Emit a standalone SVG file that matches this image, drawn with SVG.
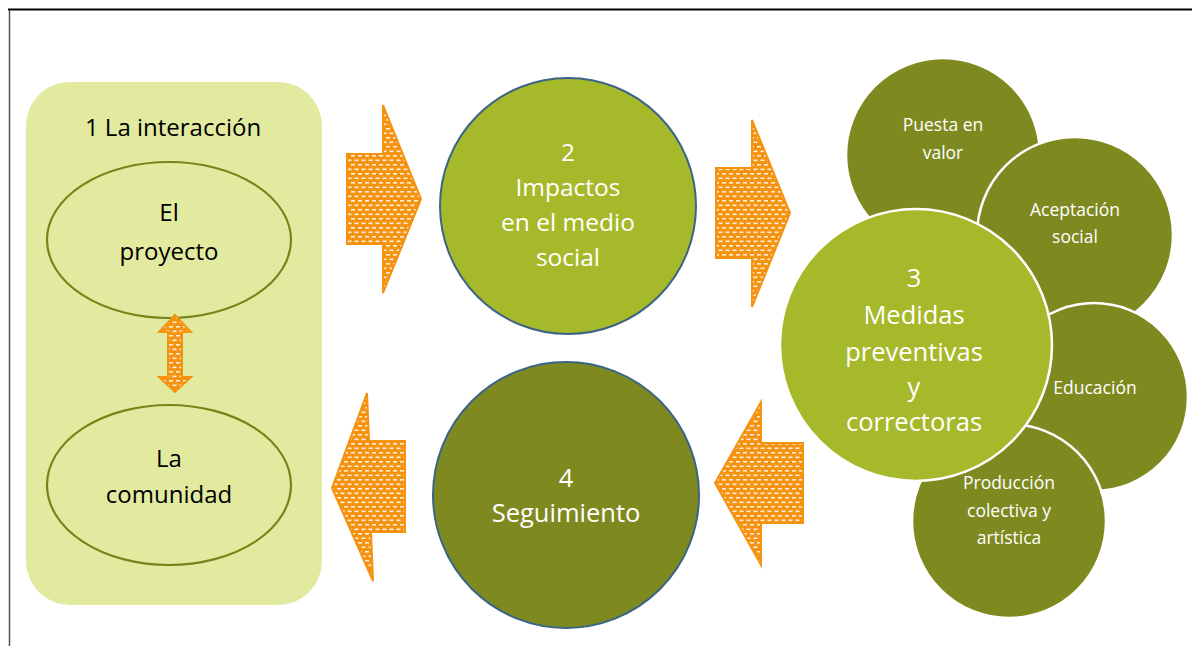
<svg xmlns="http://www.w3.org/2000/svg" width="1192" height="646" viewBox="0 0 1192 646">
<defs>
<pattern id="dots" width="7" height="9" patternUnits="userSpaceOnUse">
<rect width="7" height="9" fill="#F5920F"/>
<rect x="1" y="2" width="4" height="1.6" fill="#FFFFFF" opacity="0.85"/>
<rect x="4.5" y="6.5" width="4" height="1.6" fill="#FFFFFF" opacity="0.85"/>
<rect x="-2.5" y="6.5" width="4" height="1.6" fill="#FFFFFF" opacity="0.85"/>
</pattern>
<style>
.arrow{fill:url(#dots);stroke:#F5920F;stroke-width:2;stroke-linejoin:miter}
.box{fill:#E2EA9F}
.ell{fill:#E2EA9F;stroke:#76841A;stroke-width:2.2}
.big{stroke:#3B6487;stroke-width:2}
.light{fill:#A6B92A}
.dark{fill:#7E8A1F}
.sub{fill:#7E8A1F;stroke:#FFFFFF;stroke-width:2.5}
.t{font-family:"Open Sans","Noto Sans","Liberation Sans",sans-serif;text-anchor:middle}
.bk{fill:#000000;font-size:24px}
.wt{fill:#FFFFFF;font-size:24.5px}
.wl{fill:#FFFFFF;font-size:25.5px}
.ws{fill:#FFFFFF;font-size:17.5px}
</style>
</defs>
<rect width="1192" height="646" fill="#FFFFFF"/>
<line x1="8" y1="9.5" x2="1192" y2="9.5" stroke="#000000" stroke-width="2"/>
<line x1="9.5" y1="10" x2="9.5" y2="646" stroke="#555555" stroke-width="1.5"/>

<g id="node1">
<rect class="box" x="26" y="82" width="296" height="523" rx="44" ry="44"/>
<text class="t bk" x="173" y="136">1 La interacción</text>
</g>
<g id="proyecto">
<ellipse class="ell" cx="169" cy="240" rx="122" ry="78"/>
<text class="t bk" x="169" y="221">El</text>
<text class="t bk" x="169" y="260">proyecto</text>
</g>
<g id="comunidad">
<ellipse class="ell" cx="169" cy="485" rx="122" ry="80"/>
<text class="t bk" x="169" y="467">La</text>
<text class="t bk" x="169" y="503">comunidad</text>
</g>

<g id="node2">
<circle class="light big" cx="568" cy="206" r="128"/>
<text class="t wt" x="568" y="161">2</text>
<text class="t wt" x="568" y="196">Impactos</text>
<text class="t wt" x="568" y="231">en el medio</text>
<text class="t wt" x="568" y="266">social</text>
</g>

<g id="node4">
<circle class="dark big" cx="566" cy="495" r="133"/>
<text class="t wl" x="566" y="487">4</text>
<text class="t wl" x="566" y="522">Seguimiento</text>
</g>

<g id="puesta">
<circle class="sub" cx="943" cy="155" r="97" stroke="none"/>
<text class="t ws" x="943" y="131">Puesta en</text>
<text class="t ws" x="943" y="159">valor</text>
</g>
<g id="aceptacion">
<circle class="sub" cx="1075" cy="235" r="98"/>
<text class="t ws" x="1075" y="216">Aceptación</text>
<text class="t ws" x="1075" y="243">social</text>
</g>
<g id="educacion">
<circle class="sub" cx="1094" cy="397" r="94"/>
<text class="t ws" x="1095" y="394">Educación</text>
</g>
<g id="produccion">
<circle class="sub" cx="1009" cy="521" r="97"/>
<text class="t ws" x="1009" y="489">Producción</text>
<text class="t ws" x="1009" y="517">colectiva y</text>
<text class="t ws" x="1009" y="544">artística</text>
</g>
<g id="node3">
<circle class="light" cx="916" cy="345" r="136" stroke="#FFFFFF" stroke-width="2.5"/>
<text class="t wl" x="914" y="287">3</text>
<text class="t wl" x="914" y="324">Medidas</text>
<text class="t wl" x="914" y="361">preventivas</text>
<text class="t wl" x="914" y="396">y</text>
<text class="t wl" x="914" y="431">correctoras</text>
</g>

<g id="connectors">
<polygon class="arrow" points="347,154 383,154 383,105 421,199 383,293 383,244 347,244"/>
<polygon class="arrow" points="716,168 752,168 752,120 790,213 752,307 752,258 716,258"/>
<polygon class="arrow" points="803,443 761,443 761,402 715,483 761,565 761,523 803,523"/>
<polygon class="arrow" points="405,441 369,441 367,393 332,488 373,581 371,532 405,532"/>
<polygon class="arrow" points="175,315 191,332 182,332 182,377 191,377 175,392 159,377 168,377 168,332 159,332"/>
</g>
</svg>
